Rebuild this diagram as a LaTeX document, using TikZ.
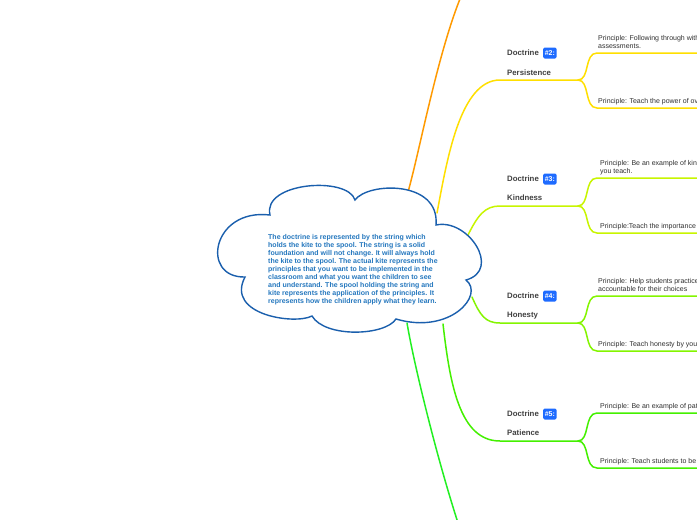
\documentclass[tikz,border=0pt]{standalone}
\usepackage{fontspec}
\setmainfont{Liberation Sans}
\usetikzlibrary{positioning}
\definecolor{CloudLine}{HTML}{1A5FAD}
\definecolor{CloudText}{HTML}{2477BE}
\definecolor{Badge}{HTML}{1E6BFF}
\definecolor{Label}{HTML}{404040}
\definecolor{Body}{HTML}{303030}
\definecolor{BrOrange}{HTML}{FF9A00}
\definecolor{BrYellow}{HTML}{FFDF00}
\definecolor{BrLime}{HTML}{C8F500}
\definecolor{BrChart}{HTML}{84F500}
\definecolor{BrGreen}{HTML}{44F000}
\definecolor{BrBright}{HTML}{22F022}
\tikzset{
    branch/.style={line width=1.5pt, line cap=round},
    cloudline/.style={draw=CloudLine, line width=1.4pt, fill=white},
    cloudtext/.style={font=\fontsize{7}{8}\selectfont\bfseries, text=CloudText, align=left, inner sep=0pt, anchor=north west},
    doclabel/.style={font=\fontsize{7.8}{8}\selectfont\bfseries, text=Label, inner sep=0pt, anchor=west},
    badge/.style={rectangle, rounded corners=1.5pt, fill=Badge, text=white, font=\fontsize{7}{8}\selectfont\bfseries, inner sep=1.6pt, minimum height=11pt},
    principle/.style={font=\fontsize{7}{8}\selectfont, text=Body, align=left, inner sep=0pt, anchor=north west},
}

\begin{document}
\begin{tikzpicture}[x=1pt, y=-1pt]
    \clip (0,0) rectangle (697,520);
    \fill[white] (0,0) rectangle (697,520);

    % points on the cloud where the branches leave
    \coordinate (cloudO) at (408,192);
    \coordinate (cloudY) at (437,213);
    \coordinate (cloudK) at (468,235);
    \coordinate (cloudH) at (472,297);
    \coordinate (cloudP) at (443,324);
    \coordinate (cloudG) at (407,323);

    % ends of the doctrine lines
    \coordinate (persL) at (500,80);   \coordinate (persJ) at (578,80);
    \coordinate (kindL) at (500,206);  \coordinate (kindJ) at (578,206);
    \coordinate (honL) at (500,323);   \coordinate (honJ) at (578,323);
    \coordinate (patL) at (500,441);   \coordinate (patJ) at (578,441);
    \coordinate (topEnd) at (466,-15);
    \coordinate (botEnd) at (462,535);

    % 1. Rami dalla nuvola
    \draw[branch, BrOrange] (cloudO) .. controls (420,150) and (440,40) .. (topEnd);
    \draw[branch, BrYellow] (cloudY) .. controls (447,160) and (460,80) .. (persL) -- (persJ);
    \draw[branch, BrLime] (cloudK) .. controls (478,215) and (485,206) .. (kindL) -- (kindJ);
    \draw[branch, BrChart] (cloudH) .. controls (480,315) and (485,323) .. (honL) -- (honJ);
    \draw[branch, BrGreen] (cloudP) .. controls (450,385) and (460,441) .. (patL) -- (patJ);
    \draw[branch, BrBright] (cloudG) .. controls (415,370) and (440,470) .. (botEnd);

    % 2. Sotto-rami dei principi
    \coordinate (persU) at (597,53);   \coordinate (persD) at (597,108);
    \coordinate (kindU) at (597,178);  \coordinate (kindD) at (597,233);
    \coordinate (honU) at (597,296);   \coordinate (honD) at (597,351);
    \coordinate (patU) at (597,413);   \coordinate (patD) at (597,468);
    \coordinate (persUe) at (700,53);  \coordinate (persDe) at (700,108);
    \coordinate (kindUe) at (700,178); \coordinate (kindDe) at (700,233);
    \coordinate (honUe) at (700,296);  \coordinate (honDe) at (700,351);
    \coordinate (patUe) at (700,413);  \coordinate (patDe) at (700,468);

    \draw[branch, BrYellow] (persJ) .. controls (590,80) and (584,53) .. (persU) -- (persUe);
    \draw[branch, BrYellow] (persJ) .. controls (590,80) and (584,108) .. (persD) -- (persDe);
    \draw[branch, BrLime] (kindJ) .. controls (590,206) and (584,178) .. (kindU) -- (kindUe);
    \draw[branch, BrLime] (kindJ) .. controls (590,206) and (584,233) .. (kindD) -- (kindDe);
    \draw[branch, BrChart] (honJ) .. controls (590,323) and (584,296) .. (honU) -- (honUe);
    \draw[branch, BrChart] (honJ) .. controls (590,323) and (584,351) .. (honD) -- (honDe);
    \draw[branch, BrGreen] (patJ) .. controls (590,441) and (584,413) .. (patU) -- (patUe);
    \draw[branch, BrGreen] (patJ) .. controls (590,441) and (584,468) .. (patD) -- (patDe);

    % 3. La nuvola
    \draw[cloudline] (270,215) .. controls (262,182) and (348,176) .. (355,200)
        .. controls (368,182) and (440,180) .. (436,225)
        .. controls (468,218) and (502,270) .. (466,280)
        .. controls (485,295) and (450,335) .. (396,319)
        .. controls (385,336) and (325,338) .. (312,316)
        .. controls (295,325) and (225,315) .. (245,277)
        .. controls (200,278) and (212,208) .. (270,215) -- cycle;

    \node[cloudtext] (idea) at (268,234) {The doctrine is represented by the string which\\
        holds the kite to the spool. The string is a solid\\
        foundation and will not change. It will always hold\\
        the kite to the spool. The actual kite represents the\\
        principles that you want to be implemented in the\\
        classroom and what you want the children to see\\
        and understand. The spool holding the string and\\
        kite represents the application of the principles. It\\
        represents how the children apply what they learn.};

    % 4. Etichette delle dottrine
    \node[doclabel] (doc2) at (507,53) {Doctrine};
    \node[badge, right=4pt of doc2] (badge2) {\#2:};
    \node[doclabel] (pers) at (507,73) {Persistence};

    \node[doclabel] (doc3) at (507,179) {Doctrine};
    \node[badge, right=4pt of doc3] (badge3) {\#3:};
    \node[doclabel] (kind) at (507,198) {Kindness};

    \node[doclabel] (doc4) at (507,296) {Doctrine};
    \node[badge, right=4pt of doc4] (badge4) {\#4:};
    \node[doclabel] (hon) at (507,316) {Honesty};

    \node[doclabel] (doc5) at (507,414) {Doctrine};
    \node[badge, right=4pt of doc5] (badge5) {\#5:};
    \node[doclabel] (pat) at (507,433) {Patience};

    % 5. Principi
    \node[principle] (persA) at (598,35) {Principle: Following through with\\assessments.};
    \node[principle] (persB) at (598,98) {Principle: Teach the power of ov};
    \node[principle] (kindA) at (600,160) {Principle: Be an example of kin\\you teach.};
    \node[principle] (kindB) at (600,223) {Principle:Teach the importance};
    \node[principle] (honA) at (598,278) {Principle: Help students practice\\accountable for their choices};
    \node[principle] (honB) at (598,341) {Principle: Teach honesty by you};
    \node[principle] (patA) at (600,403) {Principle: Be an example of pat};
    \node[principle] (patB) at (600,458) {Principle: Teach students to be};
\end{tikzpicture}
\end{document}
